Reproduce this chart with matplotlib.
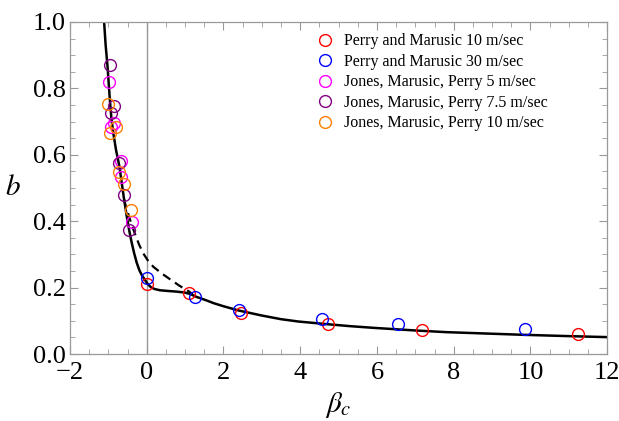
import matplotlib.pyplot as plt
from matplotlib.ticker import MultipleLocator

plt.rcParams['font.family'] = ['Liberation Serif', 'DejaVu Serif']
plt.rcParams['mathtext.fontset'] = 'stix'

# measured points (beta_c, b)
pm10_x = [0.0, 1.1, 2.45, 4.72, 7.18, 11.25]
pm10_b = [0.212, 0.183, 0.124, 0.092, 0.072, 0.061]
pm30_x = [0.0, 1.25, 2.4, 4.57, 6.55, 9.85]
pm30_b = [0.23, 0.172, 0.133, 0.106, 0.090, 0.074]
jmp5_x = [-0.98, -0.94, -0.84, -0.66, -0.66, -0.39]
jmp5_b = [0.818, 0.683, 0.695, 0.582, 0.532, 0.397]
jmp75_x = [-0.965, -0.86, -0.92, -0.71, -0.59, -0.45]
jmp75_b = [0.870, 0.748, 0.727, 0.574, 0.479, 0.374]
jmp10_x = [-1.01, -0.95, -0.81, -0.71, -0.59, -0.42]
jmp10_b = [0.752, 0.665, 0.685, 0.547, 0.511, 0.434]

# fitted curves
fit_x = [-1.11, -1.07, -1.02, -0.96, -0.92, -0.87, -0.8, -0.71, -0.65, -0.59,
         -0.52, -0.46, -0.40, -0.33, -0.26, -0.19, -0.12, -0.05, 0.02, 0.1,
         0.2, 0.35, 0.55, 0.78, 1.0, 1.13, 1.3, 1.5, 1.75, 2.0, 2.4, 3.0,
         3.5, 3.95, 4.7, 5.3, 5.9, 7.0, 7.8, 8.8, 9.8, 11.0, 12.0]
fit_b = [1.0, 0.93, 0.865, 0.765, 0.71, 0.665, 0.615, 0.564, 0.515, 0.466,
         0.415, 0.375, 0.34, 0.305, 0.275, 0.252, 0.236, 0.224, 0.212, 0.202,
         0.196, 0.192, 0.19, 0.188, 0.185, 0.181, 0.172, 0.164, 0.153, 0.144,
         0.131, 0.116, 0.105, 0.098, 0.09, 0.084, 0.079, 0.071, 0.066, 0.062,
         0.058, 0.054, 0.051]
alt_x = [-0.59, -0.55, -0.47, -0.4, -0.3, -0.2, -0.09, 0.03, 0.17, 0.4,
         0.61, 0.85, 1.08, 1.2]
alt_b = [0.466, 0.447, 0.418, 0.392, 0.36, 0.33, 0.303, 0.282, 0.263, 0.242,
         0.225, 0.206, 0.19, 0.18]

series = [
    (pm10_x, pm10_b, 'red', 'Perry and Marusic 10 m/sec'),
    (pm30_x, pm30_b, 'blue', 'Perry and Marusic 30 m/sec'),
    (jmp5_x, jmp5_b, '#ff00ff', 'Jones, Marusic, Perry 5 m/sec'),
    (jmp75_x, jmp75_b, '#800080', 'Jones, Marusic, Perry 7.5 m/sec'),
    (jmp10_x, jmp10_b, '#ff8000', 'Jones, Marusic, Perry 10 m/sec'),
]

fig = plt.figure(figsize=(6.19, 4.21), dpi=100)
ax = fig.add_axes([0.113, 0.159, 0.868, 0.789])

ax.axvline(0, color='#999999', lw=1, zorder=1)
ax.plot(alt_x, alt_b, color='black', lw=1.6, ls=(0, (4, 2.5)), zorder=2)
ax.plot(fit_x, fit_b, color='black', lw=1.8, zorder=2)

for xs, bs, c, lab in series:
    ax.plot(xs, bs, ls='none', marker='o', ms=8.5, mfc='none', mec=c,
            mew=1.0, label=lab, zorder=3)

ax.set_xlim(-2, 12)
ax.set_ylim(0, 1.0)
ax.xaxis.set_major_locator(MultipleLocator(2))
ax.xaxis.set_minor_locator(MultipleLocator(0.5))
ax.yaxis.set_major_locator(MultipleLocator(0.2))
ax.yaxis.set_minor_locator(MultipleLocator(0.05))
ax.yaxis.set_major_formatter(lambda v, p: f'{v:.1f}')
ax.xaxis.set_major_formatter(lambda v, p: f'{v:.0f}'.replace('-', '\u2212'))

ax.tick_params(which='both', direction='in', top=True, right=True,
               color='#999999', labelsize=19)
ax.tick_params(axis='x', pad=6)
ax.tick_params(axis='y', pad=3)
ax.tick_params(which='major', length=6, width=0.8)
ax.tick_params(which='minor', length=3.5, width=0.6)
for s in ax.spines.values():
    s.set_color('#999999')
    s.set_linewidth(0.9)

ax.set_xlabel(r'$\beta_c$', fontsize=21, labelpad=4)
ax.set_ylabel(r'$b$', fontsize=21, rotation=0, labelpad=14, va='center')

ax.legend(loc='upper left', bbox_to_anchor=(0.45, 0.985), frameon=False,
          fontsize=11.5, handlelength=0.8, handletextpad=0.8, labelspacing=0.28,
          borderaxespad=0)

fig.savefig('out.png', dpi=100)
plt.close(fig)
